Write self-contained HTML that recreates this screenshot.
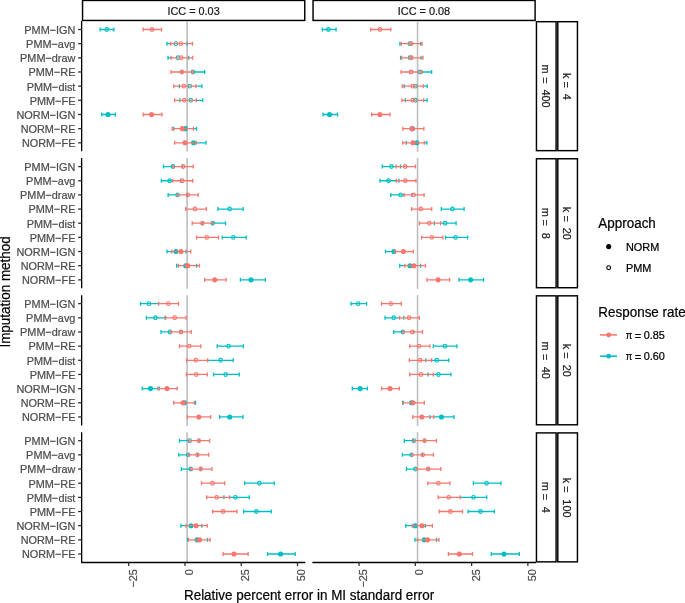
<!DOCTYPE html><html><head><meta charset="utf-8"><style>html,body{margin:0;padding:0;background:#fff;}svg{display:block;will-change:transform;}</style></head><body>
<svg width="685" height="603" viewBox="0 0 685 603" font-family='&quot;Liberation Sans&quot;, sans-serif'>
<rect x="0" y="0" width="685" height="603" fill="#fff"/>
<rect x="82.55" y="0.45" width="222.20" height="20.0" fill="#fff" stroke="#000" stroke-width="1.45"/>
<text transform="translate(193.55,14.85) scale(1,1.07)" font-size="10.9" fill="#1a1a1a" stroke="#1a1a1a" stroke-width="0.22" text-anchor="middle">ICC = 0.03</text>
<rect x="313.05" y="0.45" width="222.05" height="20.0" fill="#fff" stroke="#000" stroke-width="1.45"/>
<text transform="translate(423.98,14.85) scale(1,1.07)" font-size="10.9" fill="#1a1a1a" stroke="#1a1a1a" stroke-width="0.22" text-anchor="middle">ICC = 0.08</text>
<rect x="536.45" y="21.70" width="19.65" height="128.95" fill="#fff" stroke="#000" stroke-width="1.45"/>
<text transform="translate(541.93,64.58) rotate(90) scale(1.0,1)" font-size="10.9" fill="#1a1a1a" stroke="#1a1a1a" stroke-width="0.22">m</text>
<text transform="translate(540.93,77.27) rotate(90) scale(1.0,1)" font-size="10.9" fill="#1a1a1a" stroke="#1a1a1a" stroke-width="0.22">=</text>
<text transform="translate(541.93,89.45) rotate(90) scale(1.0,1)" font-size="10.9" fill="#1a1a1a" stroke="#1a1a1a" stroke-width="0.22">400</text>
<rect x="557.8" y="21.70" width="19.65" height="128.95" fill="#fff" stroke="#000" stroke-width="1.45"/>
<text transform="translate(563.27,72.97) rotate(90) scale(1.0,1)" font-size="10.9" fill="#1a1a1a" stroke="#1a1a1a" stroke-width="0.22">k</text>
<text transform="translate(562.27,81.47) rotate(90) scale(1.0,1)" font-size="10.9" fill="#1a1a1a" stroke="#1a1a1a" stroke-width="0.22">=</text>
<text transform="translate(563.27,93.85) rotate(90) scale(1.0,1)" font-size="10.9" fill="#1a1a1a" stroke="#1a1a1a" stroke-width="0.22">4</text>
<rect x="536.45" y="158.77" width="19.65" height="128.95" fill="#fff" stroke="#000" stroke-width="1.45"/>
<text transform="translate(541.93,207.78) rotate(90) scale(1.0,1)" font-size="10.9" fill="#1a1a1a" stroke="#1a1a1a" stroke-width="0.22">m</text>
<text transform="translate(540.93,219.57) rotate(90) scale(1.0,1)" font-size="10.9" fill="#1a1a1a" stroke="#1a1a1a" stroke-width="0.22">=</text>
<text transform="translate(541.93,232.63) rotate(90) scale(1.0,1)" font-size="10.9" fill="#1a1a1a" stroke="#1a1a1a" stroke-width="0.22">8</text>
<rect x="557.8" y="158.77" width="19.65" height="128.95" fill="#fff" stroke="#000" stroke-width="1.45"/>
<text transform="translate(563.27,206.82) rotate(90) scale(1.0,1)" font-size="10.9" fill="#1a1a1a" stroke="#1a1a1a" stroke-width="0.22">k</text>
<text transform="translate(562.27,215.57) rotate(90) scale(1.0,1)" font-size="10.9" fill="#1a1a1a" stroke="#1a1a1a" stroke-width="0.22">=</text>
<text transform="translate(563.27,227.75) rotate(90) scale(1.0,1)" font-size="10.9" fill="#1a1a1a" stroke="#1a1a1a" stroke-width="0.22">20</text>
<rect x="536.45" y="295.84" width="19.65" height="128.95" fill="#fff" stroke="#000" stroke-width="1.45"/>
<text transform="translate(541.93,341.48) rotate(90) scale(1.0,1)" font-size="10.9" fill="#1a1a1a" stroke="#1a1a1a" stroke-width="0.22">m</text>
<text transform="translate(540.93,354.07) rotate(90) scale(1.0,1)" font-size="10.9" fill="#1a1a1a" stroke="#1a1a1a" stroke-width="0.22">=</text>
<text transform="translate(541.93,366.65) rotate(90) scale(1.0,1)" font-size="10.9" fill="#1a1a1a" stroke="#1a1a1a" stroke-width="0.22">40</text>
<rect x="557.8" y="295.84" width="19.65" height="128.95" fill="#fff" stroke="#000" stroke-width="1.45"/>
<text transform="translate(563.27,343.82) rotate(90) scale(1.0,1)" font-size="10.9" fill="#1a1a1a" stroke="#1a1a1a" stroke-width="0.22">k</text>
<text transform="translate(562.27,352.27) rotate(90) scale(1.0,1)" font-size="10.9" fill="#1a1a1a" stroke="#1a1a1a" stroke-width="0.22">=</text>
<text transform="translate(563.27,364.75) rotate(90) scale(1.0,1)" font-size="10.9" fill="#1a1a1a" stroke="#1a1a1a" stroke-width="0.22">20</text>
<rect x="536.45" y="432.91" width="19.65" height="128.95" fill="#fff" stroke="#000" stroke-width="1.45"/>
<text transform="translate(541.93,481.78) rotate(90) scale(1.0,1)" font-size="10.9" fill="#1a1a1a" stroke="#1a1a1a" stroke-width="0.22">m</text>
<text transform="translate(540.93,493.87) rotate(90) scale(1.0,1)" font-size="10.9" fill="#1a1a1a" stroke="#1a1a1a" stroke-width="0.22">=</text>
<text transform="translate(541.93,506.75) rotate(90) scale(1.0,1)" font-size="10.9" fill="#1a1a1a" stroke="#1a1a1a" stroke-width="0.22">4</text>
<rect x="557.8" y="432.91" width="19.65" height="128.95" fill="#fff" stroke="#000" stroke-width="1.45"/>
<text transform="translate(563.27,477.87) rotate(90) scale(1.0,1)" font-size="10.9" fill="#1a1a1a" stroke="#1a1a1a" stroke-width="0.22">k</text>
<text transform="translate(562.27,486.27) rotate(90) scale(1.0,1)" font-size="10.9" fill="#1a1a1a" stroke="#1a1a1a" stroke-width="0.22">=</text>
<text transform="translate(563.27,499.37) rotate(90) scale(1.0,1)" font-size="10.9" fill="#1a1a1a" stroke="#1a1a1a" stroke-width="0.22">100</text>
<line x1="187.1" y1="21.00" x2="187.1" y2="151.80" stroke="#bebebe" stroke-width="1.6"/>
<path d="M100.1,29.50H113.9M100.1,27.50V31.50M113.9,27.50V31.50" stroke="#00BFC4" stroke-width="1.3" fill="none"/>
<ellipse cx="106.8" cy="29.50" rx="1.75" ry="1.9" fill="none" stroke="#00BFC4" stroke-width="1.1"/>
<path d="M167.0,43.66H170.7M167.0,41.66V45.66M187.1,41.66V45.66" stroke="#00BFC4" stroke-width="1.3" fill="none"/>
<ellipse cx="175.8" cy="43.66" rx="1.75" ry="1.9" fill="none" stroke="#00BFC4" stroke-width="1.1"/>
<path d="M168.0,57.82H171.2M168.0,55.82V59.82M188.6,55.82V59.82" stroke="#00BFC4" stroke-width="1.3" fill="none"/>
<ellipse cx="177.9" cy="57.82" rx="1.75" ry="1.9" fill="none" stroke="#00BFC4" stroke-width="1.1"/>
<path d="M193.3,71.99H204.7M182.0,69.99V73.99M204.7,69.99V73.99" stroke="#00BFC4" stroke-width="1.3" fill="none"/>
<ellipse cx="192.9" cy="71.99" rx="1.75" ry="1.9" fill="none" stroke="#00BFC4" stroke-width="1.1"/>
<path d="M196.0,86.15H201.9M179.4,84.15V88.15M201.9,84.15V88.15" stroke="#00BFC4" stroke-width="1.3" fill="none"/>
<ellipse cx="189.8" cy="86.15" rx="1.75" ry="1.9" fill="none" stroke="#00BFC4" stroke-width="1.1"/>
<path d="M196.3,100.31H202.7M179.9,98.31V102.31M202.7,98.31V102.31" stroke="#00BFC4" stroke-width="1.3" fill="none"/>
<ellipse cx="190.7" cy="100.31" rx="1.75" ry="1.9" fill="none" stroke="#00BFC4" stroke-width="1.1"/>
<path d="M101.7,114.48H115.4M101.7,112.48V116.48M115.4,112.48V116.48" stroke="#00BFC4" stroke-width="1.3" fill="none"/>
<circle cx="108.0" cy="114.48" r="2.55" fill="#00BFC4"/>
<path d="M193.5,128.64H196.6M173.8,126.64V130.64M196.6,126.64V130.64" stroke="#00BFC4" stroke-width="1.3" fill="none"/>
<circle cx="185.5" cy="128.64" r="2.55" fill="#00BFC4"/>
<path d="M196.3,142.80H206.0M184.0,140.80V144.80M206.0,140.80V144.80" stroke="#00BFC4" stroke-width="1.3" fill="none"/>
<circle cx="193.5" cy="142.80" r="2.55" fill="#00BFC4"/>
<path d="M143.1,29.50H161.6M143.1,27.50V31.50M161.6,27.50V31.50" stroke="#F8766D" stroke-width="1.3" fill="none"/>
<ellipse cx="152.0" cy="29.50" rx="1.75" ry="1.9" fill="none" stroke="#F8766D" stroke-width="1.1"/>
<path d="M170.7,43.66H192.5M170.7,41.66V45.66M192.5,41.66V45.66" stroke="#F8766D" stroke-width="1.3" fill="none"/>
<ellipse cx="180.7" cy="43.66" rx="1.75" ry="1.9" fill="none" stroke="#F8766D" stroke-width="1.1"/>
<path d="M171.2,57.82H192.7M171.2,55.82V59.82M192.7,55.82V59.82" stroke="#F8766D" stroke-width="1.3" fill="none"/>
<ellipse cx="181.2" cy="57.82" rx="1.75" ry="1.9" fill="none" stroke="#F8766D" stroke-width="1.1"/>
<path d="M171.0,71.99H193.3M171.0,69.99V73.99M193.3,69.99V73.99" stroke="#F8766D" stroke-width="1.3" fill="none"/>
<ellipse cx="181.8" cy="71.99" rx="1.75" ry="1.9" fill="none" stroke="#F8766D" stroke-width="1.1"/>
<path d="M173.8,86.15H196.0M173.8,84.15V88.15M196.0,84.15V88.15" stroke="#F8766D" stroke-width="1.3" fill="none"/>
<ellipse cx="183.8" cy="86.15" rx="1.75" ry="1.9" fill="none" stroke="#F8766D" stroke-width="1.1"/>
<path d="M174.6,100.31H196.3M174.6,98.31V102.31M196.3,98.31V102.31" stroke="#F8766D" stroke-width="1.3" fill="none"/>
<ellipse cx="184.3" cy="100.31" rx="1.75" ry="1.9" fill="none" stroke="#F8766D" stroke-width="1.1"/>
<path d="M143.3,114.48H162.0M143.3,112.48V116.48M162.0,112.48V116.48" stroke="#F8766D" stroke-width="1.3" fill="none"/>
<circle cx="151.6" cy="114.48" r="2.55" fill="#F8766D"/>
<path d="M172.3,128.64H193.5M172.3,126.64V130.64M193.5,126.64V130.64" stroke="#F8766D" stroke-width="1.3" fill="none"/>
<circle cx="182.3" cy="128.64" r="2.55" fill="#F8766D"/>
<path d="M174.6,142.80H196.3M174.6,140.80V144.80M196.3,140.80V144.80" stroke="#F8766D" stroke-width="1.3" fill="none"/>
<circle cx="185.0" cy="142.80" r="2.55" fill="#F8766D"/>
<line x1="417.55" y1="21.00" x2="417.55" y2="151.80" stroke="#bebebe" stroke-width="1.6"/>
<path d="M322.3,29.50H336.1M322.3,27.50V31.50M336.1,27.50V31.50" stroke="#00BFC4" stroke-width="1.3" fill="none"/>
<ellipse cx="328.4" cy="29.50" rx="1.75" ry="1.9" fill="none" stroke="#00BFC4" stroke-width="1.1"/>
<path d="M399.9,43.66H401.3M399.9,41.66V45.66M420.7,41.66V45.66" stroke="#00BFC4" stroke-width="1.3" fill="none"/>
<ellipse cx="409.7" cy="43.66" rx="1.75" ry="1.9" fill="none" stroke="#00BFC4" stroke-width="1.1"/>
<path d="M400.6,57.82H401.7M400.6,55.82V59.82M421.0,55.82V59.82" stroke="#00BFC4" stroke-width="1.3" fill="none"/>
<ellipse cx="409.9" cy="57.82" rx="1.75" ry="1.9" fill="none" stroke="#00BFC4" stroke-width="1.1"/>
<path d="M422.1,71.99H431.6M409.7,69.99V73.99M431.6,69.99V73.99" stroke="#00BFC4" stroke-width="1.3" fill="none"/>
<ellipse cx="419.9" cy="71.99" rx="1.75" ry="1.9" fill="none" stroke="#00BFC4" stroke-width="1.1"/>
<path d="M423.4,86.15H427.2M404.2,84.15V88.15M427.2,84.15V88.15" stroke="#00BFC4" stroke-width="1.3" fill="none"/>
<ellipse cx="415.5" cy="86.15" rx="1.75" ry="1.9" fill="none" stroke="#00BFC4" stroke-width="1.1"/>
<path d="M423.7,100.31H427.1M405.3,98.31V102.31M427.1,98.31V102.31" stroke="#00BFC4" stroke-width="1.3" fill="none"/>
<ellipse cx="415.5" cy="100.31" rx="1.75" ry="1.9" fill="none" stroke="#00BFC4" stroke-width="1.1"/>
<path d="M323.0,114.48H337.6M323.0,112.48V116.48M337.6,112.48V116.48" stroke="#00BFC4" stroke-width="1.3" fill="none"/>
<circle cx="329.5" cy="114.48" r="2.55" fill="#00BFC4"/>
<path d="" stroke="#00BFC4" stroke-width="1.3" fill="none"/>
<circle cx="412.5" cy="128.64" r="2.55" fill="#00BFC4"/>
<path d="M424.3,142.80H426.9M406.2,140.80V144.80M426.9,140.80V144.80" stroke="#00BFC4" stroke-width="1.3" fill="none"/>
<circle cx="416.9" cy="142.80" r="2.55" fill="#00BFC4"/>
<path d="M370.7,29.50H390.8M370.7,27.50V31.50M390.8,27.50V31.50" stroke="#F8766D" stroke-width="1.3" fill="none"/>
<ellipse cx="379.9" cy="29.50" rx="1.75" ry="1.9" fill="none" stroke="#F8766D" stroke-width="1.1"/>
<path d="M401.3,43.66H422.1M401.3,41.66V45.66M422.1,41.66V45.66" stroke="#F8766D" stroke-width="1.3" fill="none"/>
<ellipse cx="411.3" cy="43.66" rx="1.75" ry="1.9" fill="none" stroke="#F8766D" stroke-width="1.1"/>
<path d="M401.7,57.82H423.0M401.7,55.82V59.82M423.0,55.82V59.82" stroke="#F8766D" stroke-width="1.3" fill="none"/>
<ellipse cx="411.5" cy="57.82" rx="1.75" ry="1.9" fill="none" stroke="#F8766D" stroke-width="1.1"/>
<path d="M401.1,71.99H422.1M401.1,69.99V73.99M422.1,69.99V73.99" stroke="#F8766D" stroke-width="1.3" fill="none"/>
<ellipse cx="411.2" cy="71.99" rx="1.75" ry="1.9" fill="none" stroke="#F8766D" stroke-width="1.1"/>
<path d="M402.3,86.15H423.4M402.3,84.15V88.15M423.4,84.15V88.15" stroke="#F8766D" stroke-width="1.3" fill="none"/>
<ellipse cx="412.8" cy="86.15" rx="1.75" ry="1.9" fill="none" stroke="#F8766D" stroke-width="1.1"/>
<path d="M402.0,100.31H423.7M402.0,98.31V102.31M423.7,98.31V102.31" stroke="#F8766D" stroke-width="1.3" fill="none"/>
<ellipse cx="412.8" cy="100.31" rx="1.75" ry="1.9" fill="none" stroke="#F8766D" stroke-width="1.1"/>
<path d="M371.6,114.48H390.0M371.6,112.48V116.48M390.0,112.48V116.48" stroke="#F8766D" stroke-width="1.3" fill="none"/>
<circle cx="379.9" cy="114.48" r="2.55" fill="#F8766D"/>
<path d="M402.8,128.64H423.9M402.8,126.64V130.64M423.9,126.64V130.64" stroke="#F8766D" stroke-width="1.3" fill="none"/>
<circle cx="411.9" cy="128.64" r="2.55" fill="#F8766D"/>
<path d="M402.8,142.80H424.3M402.8,140.80V144.80M424.3,140.80V144.80" stroke="#F8766D" stroke-width="1.3" fill="none"/>
<circle cx="413.0" cy="142.80" r="2.55" fill="#F8766D"/>
<line x1="81.65" y1="21.00" x2="81.65" y2="151.30" stroke="#000" stroke-width="1.3"/>
<line x1="78.1" y1="29.50" x2="81.65" y2="29.50" stroke="#333" stroke-width="1.3"/>
<text transform="translate(75.4,33.85) scale(1,1.07)" font-size="10.9" fill="#4d4d4d" stroke="#4d4d4d" stroke-width="0.22" text-anchor="end">PMM−IGN</text>
<line x1="78.1" y1="43.66" x2="81.65" y2="43.66" stroke="#333" stroke-width="1.3"/>
<text transform="translate(75.4,48.01) scale(1,1.07)" font-size="10.9" fill="#4d4d4d" stroke="#4d4d4d" stroke-width="0.22" text-anchor="end">PMM−avg</text>
<line x1="78.1" y1="57.82" x2="81.65" y2="57.82" stroke="#333" stroke-width="1.3"/>
<text transform="translate(75.4,62.17) scale(1,1.07)" font-size="10.9" fill="#4d4d4d" stroke="#4d4d4d" stroke-width="0.22" text-anchor="end">PMM−draw</text>
<line x1="78.1" y1="71.99" x2="81.65" y2="71.99" stroke="#333" stroke-width="1.3"/>
<text transform="translate(75.4,76.34) scale(1,1.07)" font-size="10.9" fill="#4d4d4d" stroke="#4d4d4d" stroke-width="0.22" text-anchor="end">PMM−RE</text>
<line x1="78.1" y1="86.15" x2="81.65" y2="86.15" stroke="#333" stroke-width="1.3"/>
<text transform="translate(75.4,90.50) scale(1,1.07)" font-size="10.9" fill="#4d4d4d" stroke="#4d4d4d" stroke-width="0.22" text-anchor="end">PMM−dist</text>
<line x1="78.1" y1="100.31" x2="81.65" y2="100.31" stroke="#333" stroke-width="1.3"/>
<text transform="translate(75.4,104.66) scale(1,1.07)" font-size="10.9" fill="#4d4d4d" stroke="#4d4d4d" stroke-width="0.22" text-anchor="end">PMM−FE</text>
<line x1="78.1" y1="114.48" x2="81.65" y2="114.48" stroke="#333" stroke-width="1.3"/>
<text transform="translate(75.4,118.83) scale(1,1.07)" font-size="10.9" fill="#4d4d4d" stroke="#4d4d4d" stroke-width="0.22" text-anchor="end">NORM−IGN</text>
<line x1="78.1" y1="128.64" x2="81.65" y2="128.64" stroke="#333" stroke-width="1.3"/>
<text transform="translate(75.4,132.99) scale(1,1.07)" font-size="10.9" fill="#4d4d4d" stroke="#4d4d4d" stroke-width="0.22" text-anchor="end">NORM−RE</text>
<line x1="78.1" y1="142.80" x2="81.65" y2="142.80" stroke="#333" stroke-width="1.3"/>
<text transform="translate(75.4,147.15) scale(1,1.07)" font-size="10.9" fill="#4d4d4d" stroke="#4d4d4d" stroke-width="0.22" text-anchor="end">NORM−FE</text>
<line x1="187.1" y1="158.07" x2="187.1" y2="288.87" stroke="#bebebe" stroke-width="1.6"/>
<path d="M163.5,166.57H173.0M163.5,164.57V168.57M182.5,164.57V168.57" stroke="#00BFC4" stroke-width="1.3" fill="none"/>
<ellipse cx="173.0" cy="166.57" rx="1.75" ry="1.9" fill="none" stroke="#00BFC4" stroke-width="1.1"/>
<path d="M161.3,180.73H172.8M161.3,178.73V182.73M180.5,178.73V182.73" stroke="#00BFC4" stroke-width="1.3" fill="none"/>
<ellipse cx="169.6" cy="180.73" rx="1.75" ry="1.9" fill="none" stroke="#00BFC4" stroke-width="1.1"/>
<path d="M168.1,194.89H177.6M168.1,192.89V196.89M187.4,192.89V196.89" stroke="#00BFC4" stroke-width="1.3" fill="none"/>
<ellipse cx="177.6" cy="194.89" rx="1.75" ry="1.9" fill="none" stroke="#00BFC4" stroke-width="1.1"/>
<path d="M217.9,209.06H243.2M217.9,207.06V211.06M243.2,207.06V211.06" stroke="#00BFC4" stroke-width="1.3" fill="none"/>
<ellipse cx="229.6" cy="209.06" rx="1.75" ry="1.9" fill="none" stroke="#00BFC4" stroke-width="1.1"/>
<path d="M212.7,223.22H225.6M202.4,221.22V225.22M225.6,221.22V225.22" stroke="#00BFC4" stroke-width="1.3" fill="none"/>
<ellipse cx="212.7" cy="223.22" rx="1.75" ry="1.9" fill="none" stroke="#00BFC4" stroke-width="1.1"/>
<path d="M222.2,237.38H246.2M222.2,235.38V239.38M246.2,235.38V239.38" stroke="#00BFC4" stroke-width="1.3" fill="none"/>
<ellipse cx="233.3" cy="237.38" rx="1.75" ry="1.9" fill="none" stroke="#00BFC4" stroke-width="1.1"/>
<path d="M167.0,251.55H171.8M167.0,249.55V253.55M186.1,249.55V253.55" stroke="#00BFC4" stroke-width="1.3" fill="none"/>
<circle cx="175.9" cy="251.55" r="2.55" fill="#00BFC4"/>
<path d="M176.6,265.71H178.4M176.6,263.71V267.71M196.6,263.71V267.71" stroke="#00BFC4" stroke-width="1.3" fill="none"/>
<circle cx="185.7" cy="265.71" r="2.55" fill="#00BFC4"/>
<path d="M240.4,279.87H265.4M240.4,277.87V281.87M265.4,277.87V281.87" stroke="#00BFC4" stroke-width="1.3" fill="none"/>
<circle cx="251.0" cy="279.87" r="2.55" fill="#00BFC4"/>
<path d="M173.0,166.57H193.2M173.0,164.57V168.57M193.2,164.57V168.57" stroke="#F8766D" stroke-width="1.3" fill="none"/>
<ellipse cx="183.2" cy="166.57" rx="1.75" ry="1.9" fill="none" stroke="#F8766D" stroke-width="1.1"/>
<path d="M172.8,180.73H192.7M172.8,178.73V182.73M192.7,178.73V182.73" stroke="#F8766D" stroke-width="1.3" fill="none"/>
<ellipse cx="182.3" cy="180.73" rx="1.75" ry="1.9" fill="none" stroke="#F8766D" stroke-width="1.1"/>
<path d="M177.6,194.89H198.1M177.6,192.89V196.89M198.1,192.89V196.89" stroke="#F8766D" stroke-width="1.3" fill="none"/>
<ellipse cx="187.8" cy="194.89" rx="1.75" ry="1.9" fill="none" stroke="#F8766D" stroke-width="1.1"/>
<path d="M185.7,209.06H206.4M185.7,207.06V211.06M206.4,207.06V211.06" stroke="#F8766D" stroke-width="1.3" fill="none"/>
<ellipse cx="194.9" cy="209.06" rx="1.75" ry="1.9" fill="none" stroke="#F8766D" stroke-width="1.1"/>
<path d="M192.2,223.22H212.7M192.2,221.22V225.22M212.7,221.22V225.22" stroke="#F8766D" stroke-width="1.3" fill="none"/>
<ellipse cx="202.3" cy="223.22" rx="1.75" ry="1.9" fill="none" stroke="#F8766D" stroke-width="1.1"/>
<path d="M196.6,237.38H218.6M196.6,235.38V239.38M218.6,235.38V239.38" stroke="#F8766D" stroke-width="1.3" fill="none"/>
<ellipse cx="206.8" cy="237.38" rx="1.75" ry="1.9" fill="none" stroke="#F8766D" stroke-width="1.1"/>
<path d="M171.8,251.55H190.8M171.8,249.55V253.55M190.8,249.55V253.55" stroke="#F8766D" stroke-width="1.3" fill="none"/>
<circle cx="181.0" cy="251.55" r="2.55" fill="#F8766D"/>
<path d="M178.4,265.71H199.5M178.4,263.71V267.71M199.5,263.71V267.71" stroke="#F8766D" stroke-width="1.3" fill="none"/>
<circle cx="187.8" cy="265.71" r="2.55" fill="#F8766D"/>
<path d="M204.7,279.87H226.2M204.7,277.87V281.87M226.2,277.87V281.87" stroke="#F8766D" stroke-width="1.3" fill="none"/>
<circle cx="214.8" cy="279.87" r="2.55" fill="#F8766D"/>
<line x1="417.55" y1="158.07" x2="417.55" y2="288.87" stroke="#bebebe" stroke-width="1.6"/>
<path d="M382.3,166.57H396.1M382.3,164.57V168.57M400.5,164.57V168.57" stroke="#00BFC4" stroke-width="1.3" fill="none"/>
<ellipse cx="391.5" cy="166.57" rx="1.75" ry="1.9" fill="none" stroke="#00BFC4" stroke-width="1.1"/>
<path d="M380.0,180.73H396.3M380.0,178.73V182.73M399.0,178.73V182.73" stroke="#00BFC4" stroke-width="1.3" fill="none"/>
<ellipse cx="388.5" cy="180.73" rx="1.75" ry="1.9" fill="none" stroke="#00BFC4" stroke-width="1.1"/>
<path d="M390.8,194.89H404.1M390.8,192.89V196.89M411.8,192.89V196.89" stroke="#00BFC4" stroke-width="1.3" fill="none"/>
<ellipse cx="400.6" cy="194.89" rx="1.75" ry="1.9" fill="none" stroke="#00BFC4" stroke-width="1.1"/>
<path d="M441.3,209.06H464.1M441.3,207.06V211.06M464.1,207.06V211.06" stroke="#00BFC4" stroke-width="1.3" fill="none"/>
<ellipse cx="452.4" cy="209.06" rx="1.75" ry="1.9" fill="none" stroke="#00BFC4" stroke-width="1.1"/>
<path d="M440.6,223.22H456.1M434.3,221.22V225.22M456.1,221.22V225.22" stroke="#00BFC4" stroke-width="1.3" fill="none"/>
<ellipse cx="445.1" cy="223.22" rx="1.75" ry="1.9" fill="none" stroke="#00BFC4" stroke-width="1.1"/>
<path d="M445.5,237.38H467.7M445.5,235.38V239.38M467.7,235.38V239.38" stroke="#00BFC4" stroke-width="1.3" fill="none"/>
<ellipse cx="455.6" cy="237.38" rx="1.75" ry="1.9" fill="none" stroke="#00BFC4" stroke-width="1.1"/>
<path d="M385.5,251.55H394.6M385.5,249.55V253.55M403.4,249.55V253.55" stroke="#00BFC4" stroke-width="1.3" fill="none"/>
<circle cx="393.9" cy="251.55" r="2.55" fill="#00BFC4"/>
<path d="M399.7,265.71H404.8M399.7,263.71V267.71M420.6,263.71V267.71" stroke="#00BFC4" stroke-width="1.3" fill="none"/>
<circle cx="409.9" cy="265.71" r="2.55" fill="#00BFC4"/>
<path d="M459.0,279.87H483.6M459.0,277.87V281.87M483.6,277.87V281.87" stroke="#00BFC4" stroke-width="1.3" fill="none"/>
<circle cx="470.7" cy="279.87" r="2.55" fill="#00BFC4"/>
<path d="M396.1,166.57H415.5M396.1,164.57V168.57M415.5,164.57V168.57" stroke="#F8766D" stroke-width="1.3" fill="none"/>
<ellipse cx="405.1" cy="166.57" rx="1.75" ry="1.9" fill="none" stroke="#F8766D" stroke-width="1.1"/>
<path d="M396.3,180.73H416.0M396.3,178.73V182.73M416.0,178.73V182.73" stroke="#F8766D" stroke-width="1.3" fill="none"/>
<ellipse cx="405.4" cy="180.73" rx="1.75" ry="1.9" fill="none" stroke="#F8766D" stroke-width="1.1"/>
<path d="M404.1,194.89H424.1M404.1,192.89V196.89M424.1,192.89V196.89" stroke="#F8766D" stroke-width="1.3" fill="none"/>
<ellipse cx="413.6" cy="194.89" rx="1.75" ry="1.9" fill="none" stroke="#F8766D" stroke-width="1.1"/>
<path d="M411.6,209.06H431.7M411.6,207.06V211.06M431.7,207.06V211.06" stroke="#F8766D" stroke-width="1.3" fill="none"/>
<ellipse cx="420.8" cy="209.06" rx="1.75" ry="1.9" fill="none" stroke="#F8766D" stroke-width="1.1"/>
<path d="M419.4,223.22H440.6M419.4,221.22V225.22M440.6,221.22V225.22" stroke="#F8766D" stroke-width="1.3" fill="none"/>
<ellipse cx="429.3" cy="223.22" rx="1.75" ry="1.9" fill="none" stroke="#F8766D" stroke-width="1.1"/>
<path d="M421.6,237.38H442.9M421.6,235.38V239.38M442.9,235.38V239.38" stroke="#F8766D" stroke-width="1.3" fill="none"/>
<ellipse cx="431.8" cy="237.38" rx="1.75" ry="1.9" fill="none" stroke="#F8766D" stroke-width="1.1"/>
<path d="M394.6,251.55H413.3M394.6,249.55V253.55M413.3,249.55V253.55" stroke="#F8766D" stroke-width="1.3" fill="none"/>
<circle cx="403.4" cy="251.55" r="2.55" fill="#F8766D"/>
<path d="M404.8,265.71H425.5M404.8,263.71V267.71M425.5,263.71V267.71" stroke="#F8766D" stroke-width="1.3" fill="none"/>
<circle cx="413.9" cy="265.71" r="2.55" fill="#F8766D"/>
<path d="M427.0,279.87H449.6M427.0,277.87V281.87M449.6,277.87V281.87" stroke="#F8766D" stroke-width="1.3" fill="none"/>
<circle cx="438.1" cy="279.87" r="2.55" fill="#F8766D"/>
<line x1="81.65" y1="158.07" x2="81.65" y2="288.37" stroke="#000" stroke-width="1.3"/>
<line x1="78.1" y1="166.57" x2="81.65" y2="166.57" stroke="#333" stroke-width="1.3"/>
<text transform="translate(75.4,170.92) scale(1,1.07)" font-size="10.9" fill="#4d4d4d" stroke="#4d4d4d" stroke-width="0.22" text-anchor="end">PMM−IGN</text>
<line x1="78.1" y1="180.73" x2="81.65" y2="180.73" stroke="#333" stroke-width="1.3"/>
<text transform="translate(75.4,185.08) scale(1,1.07)" font-size="10.9" fill="#4d4d4d" stroke="#4d4d4d" stroke-width="0.22" text-anchor="end">PMM−avg</text>
<line x1="78.1" y1="194.89" x2="81.65" y2="194.89" stroke="#333" stroke-width="1.3"/>
<text transform="translate(75.4,199.24) scale(1,1.07)" font-size="10.9" fill="#4d4d4d" stroke="#4d4d4d" stroke-width="0.22" text-anchor="end">PMM−draw</text>
<line x1="78.1" y1="209.06" x2="81.65" y2="209.06" stroke="#333" stroke-width="1.3"/>
<text transform="translate(75.4,213.41) scale(1,1.07)" font-size="10.9" fill="#4d4d4d" stroke="#4d4d4d" stroke-width="0.22" text-anchor="end">PMM−RE</text>
<line x1="78.1" y1="223.22" x2="81.65" y2="223.22" stroke="#333" stroke-width="1.3"/>
<text transform="translate(75.4,227.57) scale(1,1.07)" font-size="10.9" fill="#4d4d4d" stroke="#4d4d4d" stroke-width="0.22" text-anchor="end">PMM−dist</text>
<line x1="78.1" y1="237.38" x2="81.65" y2="237.38" stroke="#333" stroke-width="1.3"/>
<text transform="translate(75.4,241.73) scale(1,1.07)" font-size="10.9" fill="#4d4d4d" stroke="#4d4d4d" stroke-width="0.22" text-anchor="end">PMM−FE</text>
<line x1="78.1" y1="251.55" x2="81.65" y2="251.55" stroke="#333" stroke-width="1.3"/>
<text transform="translate(75.4,255.90) scale(1,1.07)" font-size="10.9" fill="#4d4d4d" stroke="#4d4d4d" stroke-width="0.22" text-anchor="end">NORM−IGN</text>
<line x1="78.1" y1="265.71" x2="81.65" y2="265.71" stroke="#333" stroke-width="1.3"/>
<text transform="translate(75.4,270.06) scale(1,1.07)" font-size="10.9" fill="#4d4d4d" stroke="#4d4d4d" stroke-width="0.22" text-anchor="end">NORM−RE</text>
<line x1="78.1" y1="279.87" x2="81.65" y2="279.87" stroke="#333" stroke-width="1.3"/>
<text transform="translate(75.4,284.22) scale(1,1.07)" font-size="10.9" fill="#4d4d4d" stroke="#4d4d4d" stroke-width="0.22" text-anchor="end">NORM−FE</text>
<line x1="187.1" y1="295.14" x2="187.1" y2="425.94" stroke="#bebebe" stroke-width="1.6"/>
<path d="M140.5,303.64H158.4M140.5,301.64V305.64" stroke="#00BFC4" stroke-width="1.3" fill="none"/>
<ellipse cx="148.9" cy="303.64" rx="1.75" ry="1.9" fill="none" stroke="#00BFC4" stroke-width="1.1"/>
<path d="M146.4,317.80H164.9M146.4,315.80V319.80M165.7,315.80V319.80" stroke="#00BFC4" stroke-width="1.3" fill="none"/>
<ellipse cx="155.4" cy="317.80" rx="1.75" ry="1.9" fill="none" stroke="#00BFC4" stroke-width="1.1"/>
<path d="M161.0,331.96H170.8M161.0,329.96V333.96M181.0,329.96V333.96" stroke="#00BFC4" stroke-width="1.3" fill="none"/>
<ellipse cx="170.0" cy="331.96" rx="1.75" ry="1.9" fill="none" stroke="#00BFC4" stroke-width="1.1"/>
<path d="M217.2,346.13H243.4M217.2,344.13V348.13M243.4,344.13V348.13" stroke="#00BFC4" stroke-width="1.3" fill="none"/>
<ellipse cx="228.5" cy="346.13" rx="1.75" ry="1.9" fill="none" stroke="#00BFC4" stroke-width="1.1"/>
<path d="M208.0,360.29H233.2M233.2,358.29V362.29" stroke="#00BFC4" stroke-width="1.3" fill="none"/>
<ellipse cx="220.6" cy="360.29" rx="1.75" ry="1.9" fill="none" stroke="#00BFC4" stroke-width="1.1"/>
<path d="M213.5,374.45H239.3M213.5,372.45V376.45M239.3,372.45V376.45" stroke="#00BFC4" stroke-width="1.3" fill="none"/>
<ellipse cx="225.6" cy="374.45" rx="1.75" ry="1.9" fill="none" stroke="#00BFC4" stroke-width="1.1"/>
<path d="M142.2,388.62H157.8M142.2,386.62V390.62M159.3,386.62V390.62" stroke="#00BFC4" stroke-width="1.3" fill="none"/>
<circle cx="150.5" cy="388.62" r="2.55" fill="#00BFC4"/>
<path d="M173.6,402.78H173.7M194.4,402.78H195.6M195.6,400.78V404.78" stroke="#00BFC4" stroke-width="1.3" fill="none"/>
<circle cx="184.5" cy="402.78" r="2.55" fill="#00BFC4"/>
<path d="M219.6,416.94H243.0M219.6,414.94V418.94M243.0,414.94V418.94" stroke="#00BFC4" stroke-width="1.3" fill="none"/>
<circle cx="229.7" cy="416.94" r="2.55" fill="#00BFC4"/>
<path d="M158.6,303.64H178.5M158.6,301.64V305.64M178.5,301.64V305.64" stroke="#F8766D" stroke-width="1.3" fill="none"/>
<ellipse cx="168.3" cy="303.64" rx="1.75" ry="1.9" fill="none" stroke="#F8766D" stroke-width="1.1"/>
<path d="M164.9,317.80H186.1M164.9,315.80V319.80M186.1,315.80V319.80" stroke="#F8766D" stroke-width="1.3" fill="none"/>
<ellipse cx="174.7" cy="317.80" rx="1.75" ry="1.9" fill="none" stroke="#F8766D" stroke-width="1.1"/>
<path d="M170.8,331.96H191.2M170.8,329.96V333.96M191.2,329.96V333.96" stroke="#F8766D" stroke-width="1.3" fill="none"/>
<ellipse cx="181.0" cy="331.96" rx="1.75" ry="1.9" fill="none" stroke="#F8766D" stroke-width="1.1"/>
<path d="M179.5,346.13H200.8M179.5,344.13V348.13M200.8,344.13V348.13" stroke="#F8766D" stroke-width="1.3" fill="none"/>
<ellipse cx="189.3" cy="346.13" rx="1.75" ry="1.9" fill="none" stroke="#F8766D" stroke-width="1.1"/>
<path d="M186.7,360.29H207.7M186.7,358.29V362.29M207.7,358.29V362.29" stroke="#F8766D" stroke-width="1.3" fill="none"/>
<ellipse cx="195.8" cy="360.29" rx="1.75" ry="1.9" fill="none" stroke="#F8766D" stroke-width="1.1"/>
<path d="M186.4,374.45H207.3M186.4,372.45V376.45M207.3,372.45V376.45" stroke="#F8766D" stroke-width="1.3" fill="none"/>
<ellipse cx="196.2" cy="374.45" rx="1.75" ry="1.9" fill="none" stroke="#F8766D" stroke-width="1.1"/>
<path d="M157.8,388.62H177.2M157.8,386.62V390.62M177.2,386.62V390.62" stroke="#F8766D" stroke-width="1.3" fill="none"/>
<circle cx="167.0" cy="388.62" r="2.55" fill="#F8766D"/>
<path d="M173.7,402.78H194.4M173.7,400.78V404.78M194.4,400.78V404.78" stroke="#F8766D" stroke-width="1.3" fill="none"/>
<circle cx="183.1" cy="402.78" r="2.55" fill="#F8766D"/>
<path d="M187.4,416.94H210.7M187.4,414.94V418.94M210.7,414.94V418.94" stroke="#F8766D" stroke-width="1.3" fill="none"/>
<circle cx="198.8" cy="416.94" r="2.55" fill="#F8766D"/>
<line x1="417.55" y1="295.14" x2="417.55" y2="425.94" stroke="#bebebe" stroke-width="1.6"/>
<path d="M351.0,303.64H366.6M351.0,301.64V305.64M366.6,301.64V305.64" stroke="#00BFC4" stroke-width="1.3" fill="none"/>
<ellipse cx="358.2" cy="303.64" rx="1.75" ry="1.9" fill="none" stroke="#00BFC4" stroke-width="1.1"/>
<path d="M385.0,317.80H399.6M385.0,315.80V319.80M403.8,315.80V319.80" stroke="#00BFC4" stroke-width="1.3" fill="none"/>
<ellipse cx="393.7" cy="317.80" rx="1.75" ry="1.9" fill="none" stroke="#00BFC4" stroke-width="1.1"/>
<path d="M393.7,331.96H402.8M393.7,329.96V333.96M413.7,329.96V333.96" stroke="#00BFC4" stroke-width="1.3" fill="none"/>
<ellipse cx="402.8" cy="331.96" rx="1.75" ry="1.9" fill="none" stroke="#00BFC4" stroke-width="1.1"/>
<path d="M433.3,346.13H456.9M433.3,344.13V348.13M456.9,344.13V348.13" stroke="#00BFC4" stroke-width="1.3" fill="none"/>
<ellipse cx="444.9" cy="346.13" rx="1.75" ry="1.9" fill="none" stroke="#00BFC4" stroke-width="1.1"/>
<path d="M431.5,360.29H448.7M425.8,358.29V362.29M448.7,358.29V362.29" stroke="#00BFC4" stroke-width="1.3" fill="none"/>
<ellipse cx="436.7" cy="360.29" rx="1.75" ry="1.9" fill="none" stroke="#00BFC4" stroke-width="1.1"/>
<path d="M433.3,374.45H450.9M428.1,372.45V376.45M450.9,372.45V376.45" stroke="#00BFC4" stroke-width="1.3" fill="none"/>
<ellipse cx="438.5" cy="374.45" rx="1.75" ry="1.9" fill="none" stroke="#00BFC4" stroke-width="1.1"/>
<path d="M352.3,388.62H367.4M352.3,386.62V390.62M367.4,386.62V390.62" stroke="#00BFC4" stroke-width="1.3" fill="none"/>
<circle cx="360.1" cy="388.62" r="2.55" fill="#00BFC4"/>
<path d="M402.6,402.78H403.4M402.6,400.78V404.78" stroke="#00BFC4" stroke-width="1.3" fill="none"/>
<circle cx="411.5" cy="402.78" r="2.55" fill="#00BFC4"/>
<path d="M433.7,416.94H453.9M430.0,414.94V418.94M453.9,414.94V418.94" stroke="#00BFC4" stroke-width="1.3" fill="none"/>
<circle cx="441.5" cy="416.94" r="2.55" fill="#00BFC4"/>
<path d="M381.6,303.64H401.3M381.6,301.64V305.64M401.3,301.64V305.64" stroke="#F8766D" stroke-width="1.3" fill="none"/>
<ellipse cx="390.8" cy="303.64" rx="1.75" ry="1.9" fill="none" stroke="#F8766D" stroke-width="1.1"/>
<path d="M399.6,317.80H419.3M399.6,315.80V319.80M419.3,315.80V319.80" stroke="#F8766D" stroke-width="1.3" fill="none"/>
<ellipse cx="409.1" cy="317.80" rx="1.75" ry="1.9" fill="none" stroke="#F8766D" stroke-width="1.1"/>
<path d="M402.8,331.96H422.5M402.8,329.96V333.96M422.5,329.96V333.96" stroke="#F8766D" stroke-width="1.3" fill="none"/>
<ellipse cx="412.3" cy="331.96" rx="1.75" ry="1.9" fill="none" stroke="#F8766D" stroke-width="1.1"/>
<path d="M409.7,346.13H429.9M409.7,344.13V348.13M429.9,344.13V348.13" stroke="#F8766D" stroke-width="1.3" fill="none"/>
<ellipse cx="419.0" cy="346.13" rx="1.75" ry="1.9" fill="none" stroke="#F8766D" stroke-width="1.1"/>
<path d="M409.4,360.29H431.5M409.4,358.29V362.29M431.5,358.29V362.29" stroke="#F8766D" stroke-width="1.3" fill="none"/>
<ellipse cx="420.3" cy="360.29" rx="1.75" ry="1.9" fill="none" stroke="#F8766D" stroke-width="1.1"/>
<path d="M409.7,374.45H433.3M409.7,372.45V376.45M433.3,372.45V376.45" stroke="#F8766D" stroke-width="1.3" fill="none"/>
<ellipse cx="420.9" cy="374.45" rx="1.75" ry="1.9" fill="none" stroke="#F8766D" stroke-width="1.1"/>
<path d="M381.5,388.62H399.3M381.5,386.62V390.62M399.3,386.62V390.62" stroke="#F8766D" stroke-width="1.3" fill="none"/>
<circle cx="390.0" cy="388.62" r="2.55" fill="#F8766D"/>
<path d="M403.4,402.78H424.3M403.4,400.78V404.78M424.3,400.78V404.78" stroke="#F8766D" stroke-width="1.3" fill="none"/>
<circle cx="413.0" cy="402.78" r="2.55" fill="#F8766D"/>
<path d="M412.8,416.94H433.7M412.8,414.94V418.94M433.7,414.94V418.94" stroke="#F8766D" stroke-width="1.3" fill="none"/>
<circle cx="421.8" cy="416.94" r="2.55" fill="#F8766D"/>
<line x1="81.65" y1="295.14" x2="81.65" y2="425.44" stroke="#000" stroke-width="1.3"/>
<line x1="78.1" y1="303.64" x2="81.65" y2="303.64" stroke="#333" stroke-width="1.3"/>
<text transform="translate(75.4,307.99) scale(1,1.07)" font-size="10.9" fill="#4d4d4d" stroke="#4d4d4d" stroke-width="0.22" text-anchor="end">PMM−IGN</text>
<line x1="78.1" y1="317.80" x2="81.65" y2="317.80" stroke="#333" stroke-width="1.3"/>
<text transform="translate(75.4,322.15) scale(1,1.07)" font-size="10.9" fill="#4d4d4d" stroke="#4d4d4d" stroke-width="0.22" text-anchor="end">PMM−avg</text>
<line x1="78.1" y1="331.96" x2="81.65" y2="331.96" stroke="#333" stroke-width="1.3"/>
<text transform="translate(75.4,336.31) scale(1,1.07)" font-size="10.9" fill="#4d4d4d" stroke="#4d4d4d" stroke-width="0.22" text-anchor="end">PMM−draw</text>
<line x1="78.1" y1="346.13" x2="81.65" y2="346.13" stroke="#333" stroke-width="1.3"/>
<text transform="translate(75.4,350.48) scale(1,1.07)" font-size="10.9" fill="#4d4d4d" stroke="#4d4d4d" stroke-width="0.22" text-anchor="end">PMM−RE</text>
<line x1="78.1" y1="360.29" x2="81.65" y2="360.29" stroke="#333" stroke-width="1.3"/>
<text transform="translate(75.4,364.64) scale(1,1.07)" font-size="10.9" fill="#4d4d4d" stroke="#4d4d4d" stroke-width="0.22" text-anchor="end">PMM−dist</text>
<line x1="78.1" y1="374.45" x2="81.65" y2="374.45" stroke="#333" stroke-width="1.3"/>
<text transform="translate(75.4,378.80) scale(1,1.07)" font-size="10.9" fill="#4d4d4d" stroke="#4d4d4d" stroke-width="0.22" text-anchor="end">PMM−FE</text>
<line x1="78.1" y1="388.62" x2="81.65" y2="388.62" stroke="#333" stroke-width="1.3"/>
<text transform="translate(75.4,392.97) scale(1,1.07)" font-size="10.9" fill="#4d4d4d" stroke="#4d4d4d" stroke-width="0.22" text-anchor="end">NORM−IGN</text>
<line x1="78.1" y1="402.78" x2="81.65" y2="402.78" stroke="#333" stroke-width="1.3"/>
<text transform="translate(75.4,407.13) scale(1,1.07)" font-size="10.9" fill="#4d4d4d" stroke="#4d4d4d" stroke-width="0.22" text-anchor="end">NORM−RE</text>
<line x1="78.1" y1="416.94" x2="81.65" y2="416.94" stroke="#333" stroke-width="1.3"/>
<text transform="translate(75.4,421.29) scale(1,1.07)" font-size="10.9" fill="#4d4d4d" stroke="#4d4d4d" stroke-width="0.22" text-anchor="end">NORM−FE</text>
<line x1="187.1" y1="432.21" x2="187.1" y2="563.01" stroke="#bebebe" stroke-width="1.6"/>
<path d="M179.5,440.71H189.0M179.5,438.71V442.71M199.2,438.71V442.71" stroke="#00BFC4" stroke-width="1.3" fill="none"/>
<ellipse cx="189.7" cy="440.71" rx="1.75" ry="1.9" fill="none" stroke="#00BFC4" stroke-width="1.1"/>
<path d="M178.8,454.87H188.2M178.8,452.87V456.87M197.7,452.87V456.87" stroke="#00BFC4" stroke-width="1.3" fill="none"/>
<ellipse cx="188.2" cy="454.87" rx="1.75" ry="1.9" fill="none" stroke="#00BFC4" stroke-width="1.1"/>
<path d="M181.4,469.03H190.7M181.4,467.03V471.03M200.7,467.03V471.03" stroke="#00BFC4" stroke-width="1.3" fill="none"/>
<ellipse cx="190.7" cy="469.03" rx="1.75" ry="1.9" fill="none" stroke="#00BFC4" stroke-width="1.1"/>
<path d="M244.6,483.20H274.3M244.6,481.20V485.20M274.3,481.20V485.20" stroke="#00BFC4" stroke-width="1.3" fill="none"/>
<ellipse cx="259.4" cy="483.20" rx="1.75" ry="1.9" fill="none" stroke="#00BFC4" stroke-width="1.1"/>
<path d="M229.6,497.36H249.3M223.9,495.36V499.36M249.3,495.36V499.36" stroke="#00BFC4" stroke-width="1.3" fill="none"/>
<ellipse cx="235.4" cy="497.36" rx="1.75" ry="1.9" fill="none" stroke="#00BFC4" stroke-width="1.1"/>
<path d="M243.7,511.52H271.3M243.7,509.52V513.52M271.3,509.52V513.52" stroke="#00BFC4" stroke-width="1.3" fill="none"/>
<ellipse cx="256.3" cy="511.52" rx="1.75" ry="1.9" fill="none" stroke="#00BFC4" stroke-width="1.1"/>
<path d="M180.9,525.69H186.1M180.9,523.69V527.69M201.9,523.69V527.69" stroke="#00BFC4" stroke-width="1.3" fill="none"/>
<circle cx="191.0" cy="525.69" r="2.55" fill="#00BFC4"/>
<path d="M187.6,539.85H188.6M187.6,537.85V541.85M207.5,537.85V541.85" stroke="#00BFC4" stroke-width="1.3" fill="none"/>
<circle cx="197.0" cy="539.85" r="2.55" fill="#00BFC4"/>
<path d="M267.5,554.01H295.2M267.5,552.01V556.01M295.2,552.01V556.01" stroke="#00BFC4" stroke-width="1.3" fill="none"/>
<circle cx="280.6" cy="554.01" r="2.55" fill="#00BFC4"/>
<path d="M189.0,440.71H209.7M189.0,438.71V442.71M209.7,438.71V442.71" stroke="#F8766D" stroke-width="1.3" fill="none"/>
<ellipse cx="198.8" cy="440.71" rx="1.75" ry="1.9" fill="none" stroke="#F8766D" stroke-width="1.1"/>
<path d="M188.2,454.87H208.7M188.2,452.87V456.87M208.7,452.87V456.87" stroke="#F8766D" stroke-width="1.3" fill="none"/>
<ellipse cx="197.4" cy="454.87" rx="1.75" ry="1.9" fill="none" stroke="#F8766D" stroke-width="1.1"/>
<path d="M190.7,469.03H211.9M190.7,467.03V471.03M211.9,467.03V471.03" stroke="#F8766D" stroke-width="1.3" fill="none"/>
<ellipse cx="200.7" cy="469.03" rx="1.75" ry="1.9" fill="none" stroke="#F8766D" stroke-width="1.1"/>
<path d="M201.5,483.20H224.6M201.5,481.20V485.20M224.6,481.20V485.20" stroke="#F8766D" stroke-width="1.3" fill="none"/>
<ellipse cx="212.5" cy="483.20" rx="1.75" ry="1.9" fill="none" stroke="#F8766D" stroke-width="1.1"/>
<path d="M206.7,497.36H229.6M206.7,495.36V499.36M229.6,495.36V499.36" stroke="#F8766D" stroke-width="1.3" fill="none"/>
<ellipse cx="216.7" cy="497.36" rx="1.75" ry="1.9" fill="none" stroke="#F8766D" stroke-width="1.1"/>
<path d="M212.7,511.52H237.0M212.7,509.52V513.52M237.0,509.52V513.52" stroke="#F8766D" stroke-width="1.3" fill="none"/>
<ellipse cx="223.1" cy="511.52" rx="1.75" ry="1.9" fill="none" stroke="#F8766D" stroke-width="1.1"/>
<path d="M186.1,525.69H207.2M186.1,523.69V527.69M207.2,523.69V527.69" stroke="#F8766D" stroke-width="1.3" fill="none"/>
<circle cx="196.0" cy="525.69" r="2.55" fill="#F8766D"/>
<path d="M188.6,539.85H210.1M188.6,537.85V541.85M210.1,537.85V541.85" stroke="#F8766D" stroke-width="1.3" fill="none"/>
<circle cx="199.6" cy="539.85" r="2.55" fill="#F8766D"/>
<path d="M223.1,554.01H248.1M223.1,552.01V556.01M248.1,552.01V556.01" stroke="#F8766D" stroke-width="1.3" fill="none"/>
<circle cx="234.0" cy="554.01" r="2.55" fill="#F8766D"/>
<line x1="417.55" y1="432.21" x2="417.55" y2="563.01" stroke="#bebebe" stroke-width="1.6"/>
<path d="M404.3,440.71H413.4M404.3,438.71V442.71M424.3,438.71V442.71" stroke="#00BFC4" stroke-width="1.3" fill="none"/>
<ellipse cx="413.8" cy="440.71" rx="1.75" ry="1.9" fill="none" stroke="#00BFC4" stroke-width="1.1"/>
<path d="M402.4,454.87H411.9M402.4,452.87V456.87M422.4,452.87V456.87" stroke="#00BFC4" stroke-width="1.3" fill="none"/>
<ellipse cx="411.6" cy="454.87" rx="1.75" ry="1.9" fill="none" stroke="#00BFC4" stroke-width="1.1"/>
<path d="M406.4,469.03H416.3M406.4,467.03V471.03M428.0,467.03V471.03" stroke="#00BFC4" stroke-width="1.3" fill="none"/>
<ellipse cx="415.5" cy="469.03" rx="1.75" ry="1.9" fill="none" stroke="#00BFC4" stroke-width="1.1"/>
<path d="M473.4,483.20H500.9M473.4,481.20V485.20M500.9,481.20V485.20" stroke="#00BFC4" stroke-width="1.3" fill="none"/>
<ellipse cx="486.6" cy="483.20" rx="1.75" ry="1.9" fill="none" stroke="#00BFC4" stroke-width="1.1"/>
<path d="M461.0,497.36H486.7M486.7,495.36V499.36" stroke="#00BFC4" stroke-width="1.3" fill="none"/>
<ellipse cx="473.4" cy="497.36" rx="1.75" ry="1.9" fill="none" stroke="#00BFC4" stroke-width="1.1"/>
<path d="M468.2,511.52H494.3M468.2,509.52V513.52M494.3,509.52V513.52" stroke="#00BFC4" stroke-width="1.3" fill="none"/>
<ellipse cx="480.4" cy="511.52" rx="1.75" ry="1.9" fill="none" stroke="#00BFC4" stroke-width="1.1"/>
<path d="M405.8,525.69H412.3M405.8,523.69V527.69M425.3,523.69V527.69" stroke="#00BFC4" stroke-width="1.3" fill="none"/>
<circle cx="415.3" cy="525.69" r="2.55" fill="#00BFC4"/>
<path d="M415.0,539.85H417.6M415.0,537.85V541.85M436.5,537.85V541.85" stroke="#00BFC4" stroke-width="1.3" fill="none"/>
<circle cx="424.2" cy="539.85" r="2.55" fill="#00BFC4"/>
<path d="M491.3,554.01H519.3M491.3,552.01V556.01M519.3,552.01V556.01" stroke="#00BFC4" stroke-width="1.3" fill="none"/>
<circle cx="504.0" cy="554.01" r="2.55" fill="#00BFC4"/>
<path d="M413.4,440.71H436.4M413.4,438.71V442.71M436.4,438.71V442.71" stroke="#F8766D" stroke-width="1.3" fill="none"/>
<ellipse cx="424.6" cy="440.71" rx="1.75" ry="1.9" fill="none" stroke="#F8766D" stroke-width="1.1"/>
<path d="M411.9,454.87H433.5M411.9,452.87V456.87M433.5,452.87V456.87" stroke="#F8766D" stroke-width="1.3" fill="none"/>
<ellipse cx="422.8" cy="454.87" rx="1.75" ry="1.9" fill="none" stroke="#F8766D" stroke-width="1.1"/>
<path d="M416.3,469.03H440.8M416.3,467.03V471.03M440.8,467.03V471.03" stroke="#F8766D" stroke-width="1.3" fill="none"/>
<ellipse cx="428.2" cy="469.03" rx="1.75" ry="1.9" fill="none" stroke="#F8766D" stroke-width="1.1"/>
<path d="M427.8,483.20H449.9M427.8,481.20V485.20M449.9,481.20V485.20" stroke="#F8766D" stroke-width="1.3" fill="none"/>
<ellipse cx="438.4" cy="483.20" rx="1.75" ry="1.9" fill="none" stroke="#F8766D" stroke-width="1.1"/>
<path d="M438.2,497.36H460.3M438.2,495.36V499.36M460.3,495.36V499.36" stroke="#F8766D" stroke-width="1.3" fill="none"/>
<ellipse cx="448.7" cy="497.36" rx="1.75" ry="1.9" fill="none" stroke="#F8766D" stroke-width="1.1"/>
<path d="M439.2,511.52H462.5M439.2,509.52V513.52M462.5,509.52V513.52" stroke="#F8766D" stroke-width="1.3" fill="none"/>
<ellipse cx="450.3" cy="511.52" rx="1.75" ry="1.9" fill="none" stroke="#F8766D" stroke-width="1.1"/>
<path d="M412.3,525.69H432.4M412.3,523.69V527.69M432.4,523.69V527.69" stroke="#F8766D" stroke-width="1.3" fill="none"/>
<circle cx="422.0" cy="525.69" r="2.55" fill="#F8766D"/>
<path d="M417.6,539.85H439.0M417.6,537.85V541.85M439.0,537.85V541.85" stroke="#F8766D" stroke-width="1.3" fill="none"/>
<circle cx="427.6" cy="539.85" r="2.55" fill="#F8766D"/>
<path d="M448.4,554.01H472.5M448.4,552.01V556.01M472.5,552.01V556.01" stroke="#F8766D" stroke-width="1.3" fill="none"/>
<circle cx="459.3" cy="554.01" r="2.55" fill="#F8766D"/>
<path d="M81.65,432.21V562.51H305.25" stroke="#000" stroke-width="1.3" fill="none" stroke-linejoin="round"/>
<line x1="78.1" y1="440.71" x2="81.65" y2="440.71" stroke="#333" stroke-width="1.3"/>
<text transform="translate(75.4,445.06) scale(1,1.07)" font-size="10.9" fill="#4d4d4d" stroke="#4d4d4d" stroke-width="0.22" text-anchor="end">PMM−IGN</text>
<line x1="78.1" y1="454.87" x2="81.65" y2="454.87" stroke="#333" stroke-width="1.3"/>
<text transform="translate(75.4,459.22) scale(1,1.07)" font-size="10.9" fill="#4d4d4d" stroke="#4d4d4d" stroke-width="0.22" text-anchor="end">PMM−avg</text>
<line x1="78.1" y1="469.03" x2="81.65" y2="469.03" stroke="#333" stroke-width="1.3"/>
<text transform="translate(75.4,473.38) scale(1,1.07)" font-size="10.9" fill="#4d4d4d" stroke="#4d4d4d" stroke-width="0.22" text-anchor="end">PMM−draw</text>
<line x1="78.1" y1="483.20" x2="81.65" y2="483.20" stroke="#333" stroke-width="1.3"/>
<text transform="translate(75.4,487.55) scale(1,1.07)" font-size="10.9" fill="#4d4d4d" stroke="#4d4d4d" stroke-width="0.22" text-anchor="end">PMM−RE</text>
<line x1="78.1" y1="497.36" x2="81.65" y2="497.36" stroke="#333" stroke-width="1.3"/>
<text transform="translate(75.4,501.71) scale(1,1.07)" font-size="10.9" fill="#4d4d4d" stroke="#4d4d4d" stroke-width="0.22" text-anchor="end">PMM−dist</text>
<line x1="78.1" y1="511.52" x2="81.65" y2="511.52" stroke="#333" stroke-width="1.3"/>
<text transform="translate(75.4,515.87) scale(1,1.07)" font-size="10.9" fill="#4d4d4d" stroke="#4d4d4d" stroke-width="0.22" text-anchor="end">PMM−FE</text>
<line x1="78.1" y1="525.69" x2="81.65" y2="525.69" stroke="#333" stroke-width="1.3"/>
<text transform="translate(75.4,530.04) scale(1,1.07)" font-size="10.9" fill="#4d4d4d" stroke="#4d4d4d" stroke-width="0.22" text-anchor="end">NORM−IGN</text>
<line x1="78.1" y1="539.85" x2="81.65" y2="539.85" stroke="#333" stroke-width="1.3"/>
<text transform="translate(75.4,544.20) scale(1,1.07)" font-size="10.9" fill="#4d4d4d" stroke="#4d4d4d" stroke-width="0.22" text-anchor="end">NORM−RE</text>
<line x1="78.1" y1="554.01" x2="81.65" y2="554.01" stroke="#333" stroke-width="1.3"/>
<text transform="translate(75.4,558.36) scale(1,1.07)" font-size="10.9" fill="#4d4d4d" stroke="#4d4d4d" stroke-width="0.22" text-anchor="end">NORM−FE</text>
<line x1="128.68" y1="562.51" x2="128.68" y2="566.01" stroke="#333" stroke-width="1.3"/>
<text transform="translate(136.58,569.11) rotate(-90)" font-size="10.9" fill="#4d4d4d" stroke="#4d4d4d" stroke-width="0.22" text-anchor="end">−25</text>
<line x1="184.95" y1="562.51" x2="184.95" y2="566.01" stroke="#333" stroke-width="1.3"/>
<text transform="translate(192.85,569.11) rotate(-90)" font-size="10.9" fill="#4d4d4d" stroke="#4d4d4d" stroke-width="0.22" text-anchor="end">0</text>
<line x1="241.22" y1="562.51" x2="241.22" y2="566.01" stroke="#333" stroke-width="1.3"/>
<text transform="translate(249.12,569.11) rotate(-90)" font-size="10.9" fill="#4d4d4d" stroke="#4d4d4d" stroke-width="0.22" text-anchor="end">25</text>
<line x1="297.49" y1="562.51" x2="297.49" y2="566.01" stroke="#333" stroke-width="1.3"/>
<text transform="translate(305.38,569.11) rotate(-90)" font-size="10.9" fill="#4d4d4d" stroke="#4d4d4d" stroke-width="0.22" text-anchor="end">50</text>
<line x1="312.4" y1="562.51" x2="536.0" y2="562.51" stroke="#000" stroke-width="1.3"/>
<line x1="359.08" y1="562.51" x2="359.08" y2="566.01" stroke="#333" stroke-width="1.3"/>
<text transform="translate(366.98,569.11) rotate(-90)" font-size="10.9" fill="#4d4d4d" stroke="#4d4d4d" stroke-width="0.22" text-anchor="end">−25</text>
<line x1="415.35" y1="562.51" x2="415.35" y2="566.01" stroke="#333" stroke-width="1.3"/>
<text transform="translate(423.25,569.11) rotate(-90)" font-size="10.9" fill="#4d4d4d" stroke="#4d4d4d" stroke-width="0.22" text-anchor="end">0</text>
<line x1="471.62" y1="562.51" x2="471.62" y2="566.01" stroke="#333" stroke-width="1.3"/>
<text transform="translate(479.52,569.11) rotate(-90)" font-size="10.9" fill="#4d4d4d" stroke="#4d4d4d" stroke-width="0.22" text-anchor="end">25</text>
<line x1="527.88" y1="562.51" x2="527.88" y2="566.01" stroke="#333" stroke-width="1.3"/>
<text transform="translate(535.78,569.11) rotate(-90)" font-size="10.9" fill="#4d4d4d" stroke="#4d4d4d" stroke-width="0.22" text-anchor="end">50</text>
<text transform="translate(309.1,599.8) scale(1,1.045)" font-size="13.45" fill="#000" stroke="#000" stroke-width="0.2" text-anchor="middle">Relative percent error in MI standard error</text>
<text transform="translate(9.75,291.9) rotate(-90) scale(1,1.05)" font-size="13.45" fill="#000" stroke="#000" stroke-width="0.2" text-anchor="middle">Imputation method</text>
<text transform="translate(598.3,227.7) scale(1,1.045)" font-size="13.45" fill="#000" stroke="#000" stroke-width="0.2">Approach</text>
<circle cx="608.7" cy="246.6" r="2.55" fill="#000"/>
<text x="626.0" y="250.6" font-size="10.9" fill="#000" stroke="#000" stroke-width="0.22">NORM</text>
<circle cx="608.7" cy="267.7" r="1.9" fill="none" stroke="#000" stroke-width="1.1"/>
<text x="626.0" y="272.2" font-size="10.9" fill="#000" stroke="#000" stroke-width="0.22">PMM</text>
<text transform="translate(598.3,316.6) scale(1,1.045)" font-size="13.45" fill="#000" stroke="#000" stroke-width="0.2">Response rate</text>
<line x1="600" y1="334.9" x2="617" y2="334.9" stroke="#F8766D" stroke-width="1.55"/>
<circle cx="608.7" cy="334.9" r="2.4" fill="#F8766D"/>
<text transform="translate(625.73,338.95) scale(0.87,1)" font-size="10.9" fill="#000" stroke="#000" stroke-width="0.22">π</text>
<text x="634.67" y="339.95" font-size="10.9" fill="#000" stroke="#000" stroke-width="0.22">=</text>
<text x="643.67" y="338.95" font-size="10.9" fill="#000" stroke="#000" stroke-width="0.22">0.85</text>
<line x1="600" y1="356.2" x2="617" y2="356.2" stroke="#00BFC4" stroke-width="1.55"/>
<circle cx="608.7" cy="356.2" r="2.4" fill="#00BFC4"/>
<text transform="translate(625.73,360.25) scale(0.87,1)" font-size="10.9" fill="#000" stroke="#000" stroke-width="0.22">π</text>
<text x="634.67" y="361.25" font-size="10.9" fill="#000" stroke="#000" stroke-width="0.22">=</text>
<text x="643.67" y="360.25" font-size="10.9" fill="#000" stroke="#000" stroke-width="0.22">0.60</text>
</svg></body></html>
